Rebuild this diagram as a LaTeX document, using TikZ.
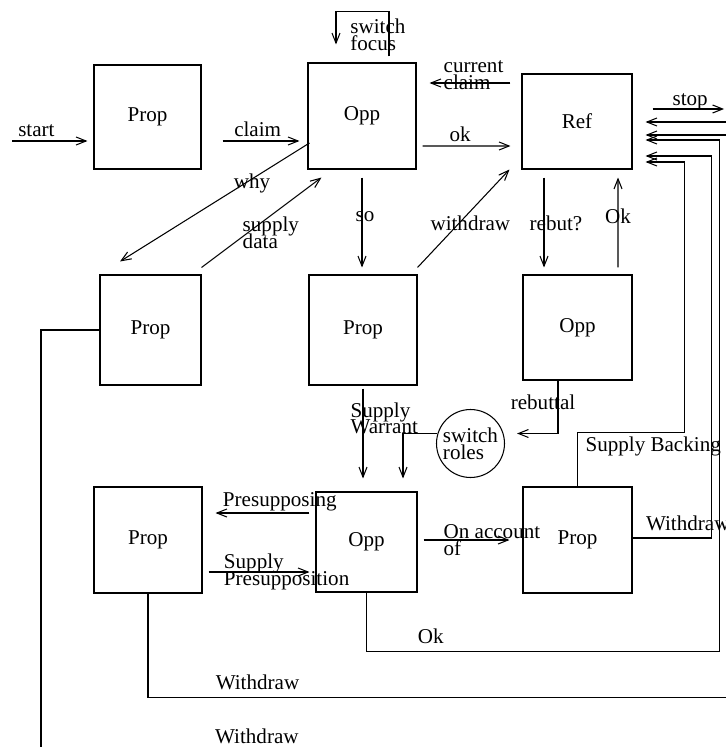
\documentclass[tikz,border=0pt]{standalone}
\usepackage{fontspec}
\setmainfont{Liberation Serif}
\usepackage{tikz}
\usetikzlibrary{arrows.meta,calc}
\lineskiplimit=-20pt
\tikzset{
  basefont/.style={font=\fontsize{12}{9.5}\selectfont},
  statebox/.style={rectangle,draw=black,line width=0.6pt,basefont,
                   inner sep=0pt},
  rolecircle/.style={circle,draw=black,line width=0.6pt,basefont,
                     minimum size=1.36cm,inner sep=0pt,align=left},
  lbl/.style={basefont,inner sep=2pt},
  arr/.style={-{Straight Barb[length=2mm,width=1.6mm]},line width=0.6pt},
  backarr/.style={arr,shorten >=0.26cm}
}

\begin{document}
\begin{tikzpicture}[x=0.02cm,y=-0.02cm]
  \useasboundingbox (0,0) rectangle (725,747);

  \node[statebox,minimum width=2.14cm,minimum height=2.08cm] (prA) at (147.5,117) {Prop};
  \node[statebox,minimum width=2.16cm,minimum height=2.12cm] (oppA) at (362,116) {Opp};
  \node[statebox,minimum width=2.2cm,minimum height=1.9cm] (refA) at (577,121.5) {Ref};

  \node[statebox,minimum width=2.02cm,minimum height=2.2cm] (prB) at (150.5,330) {Prop};
  \node[statebox,minimum width=2.16cm,minimum height=2.2cm] (prC) at (363,330) {Prop};
  \node[statebox,minimum width=2.18cm,minimum height=2.1cm] (oppB) at (577.5,327.5) {Opp};

  \node[rolecircle] (roles) at (470.5,443.5) {switch\\roles};

  \node[statebox,minimum width=2.16cm,minimum height=2.12cm] (prD) at (148,540) {Prop};
  \node[statebox,minimum width=2.02cm,minimum height=2cm] (oppC) at (366.5,542) {Opp};
  \node[statebox,minimum width=2.18cm,minimum height=2.12cm] (prE) at (577.5,540) {Prop};

  \coordinate (go) at (12,141);
  \coordinate (halt) at (724,109);

  \draw[arr,shorten >=0.12cm] (go) -- (prA.west |- go)
      node[lbl,pos=0.3,above] (lStart) {start};
  \draw[arr,shorten <=0.42cm,shorten >=0.16cm] (prA.east |- go) -- (oppA.west |- go)
      node[lbl,pos=0.53,above] (lClaim) {claim};
  \draw[arr,shorten <=0.12cm,shorten >=0.22cm] ($(oppA.east)+(0,30)$) -- ($(refA.west)+(0,24.5)$)
      node[lbl,pos=0.415,above] (lOkA) {ok};
  \draw[arr,shorten <=0.22cm,shorten >=0.26cm] ($(refA.west)+(0,-38.5)$) -- ($(oppA.east)+(0,-33)$)
      node[lbl,pos=0.78,anchor=west,yshift=0.16cm,align=left] (lCurrent) {current\\claim};
  \draw[arr] ($(oppA.north)+(27,-6)$) -- ++(0,-45) -- ++(-53,0) -- ++(0,33);
  \node[lbl,align=left,anchor=west] (lFocus) at ($(oppA.north)+(-15.5,-28)$) {switch\\focus};
  \draw[arr,shorten <=0.4cm] ($(refA.east)+(0,-12.5)$) -- (halt)
      node[lbl,pos=0.63,above,yshift=-0.1cm] (lStop) {stop};

  \draw[arr] ($(oppA.west)+(2,27)$) -- ($(prB.north)+(-30.5,-13)$)
      node[lbl,pos=0.34,xshift=0.14cm] (lWhy) {why};
  \draw[arr] ($(prB.north east)+(0,-7)$) -- ($(oppA.south west)+(14,8)$)
      node[lbl,pos=0.385,anchor=west,xshift=-0.18cm,align=left] (lData) {supply\\data};
  \draw[arr,shorten <=0.16cm,shorten >=0.14cm] (oppA.south) -- (oppA.south |- prC.north)
      node[lbl,pos=0.45,xshift=0.06cm] (lSo) {so};
  \draw[arr] ($(prC.north east)+(0,-7)$) -- ($(refA.south west)+(-12,0)$)
      node[lbl,pos=0.455,xshift=0.22cm] (lWithdrawA) {withdraw};
  \draw[arr,shorten <=0.16cm,shorten >=0.14cm] ($(refA.south)+(-33,0)$) -- ($(oppB.north)+(-33.5,0)$)
      node[lbl,pos=0.51,xshift=0.24cm] (lRebut) {rebut?};
  \draw[arr,shorten <=0.14cm,shorten >=0.16cm] ($(oppB.north)+(40.5,0)$) -- ($(refA.south)+(41,0)$)
      node[lbl,pos=0.55] (lOkB) {Ok};

  \draw[arr,shorten <=0.06cm,shorten >=0.26cm] (prC.south) -- (prC.south |- oppC.north)
      node[lbl,pos=0.31,anchor=west,xshift=-0.33cm,align=left] (lWarrant) {Supply\\Warrant};
  \draw[arr] (roles.163) -| ($(oppC.north)+(36.5,-13)$);
  \draw[arr] ($(oppB.south)+(-19.5,0)$) |- ($(roles.east)+(12,-10)$)
      node[lbl,pos=0.205,xshift=-0.3cm] (lRebuttal) {rebuttal};

  \draw[arr,shorten <=0.12cm,shorten >=0.26cm] ($(oppC.west)+(0,-29)$) -- ($(prD.east)+(0,-27)$)
      node[lbl,pos=0.316,yshift=0.22cm] (lPresupposing) {Presupposing};
  \draw[arr,shorten <=0.12cm,shorten >=0.12cm] ($(prD.east)+(0,32)$) -- ($(oppC.west)+(0,30)$)
      node[lbl,pos=0.154,anchor=west,align=left] (lPresup) {Supply\\Presupposition};
  \draw[arr,shorten <=0.12cm,shorten >=0.26cm] ($(oppC.east)+(0,-2)$) -- (prE.west)
      node[lbl,pos=0.21,anchor=west,align=left] (lAccount) {On account\\of};

  \draw[backarr] (prE.north) -- ++(0,-54)
      node[lbl,anchor=north west,xshift=0.08cm] (lBacking) {Supply Backing}
      -| ($(refA.east)+(52,40.5)$) -- ($(refA.east)+(0,40.5)$);
  \draw[backarr] ($(prE.east)+(0,-2)$)
      -| node[lbl,pos=0.06,anchor=south west,yshift=0.06cm] (lWithdrawB) {Withdraw}
      ($(refA.east)+(79,34.5)$) -- ($(refA.east)+(0,34.5)$);
  \draw[backarr] (oppC.south) -- ++(0,59)
      -| node[lbl,pos=0.067,anchor=south west,yshift=0.07cm] (lOkC) {Ok}
      ($(refA.east)+(87,18.5)$) -- ($(refA.east)+(0,18.5)$);
  \draw[backarr] (prD.south) -- ++(0,104)
      -| node[lbl,pos=0.055,anchor=south west,yshift=0.07cm] (lWithdrawC) {Withdraw}
      ($(refA.east)+(95,13.5)$) -- ($(refA.east)+(0,13.5)$);
  \draw[backarr] (prB.west) -- ++(-58.5,0) -- ++(0,421)
      -| node[lbl,pos=0.123,anchor=south west,yshift=0.07cm] (lWithdrawD) {Withdraw}
      ($(refA.east)+(100,0.5)$) -- ($(refA.east)+(0,0.5)$);

\end{tikzpicture}
\end{document}
